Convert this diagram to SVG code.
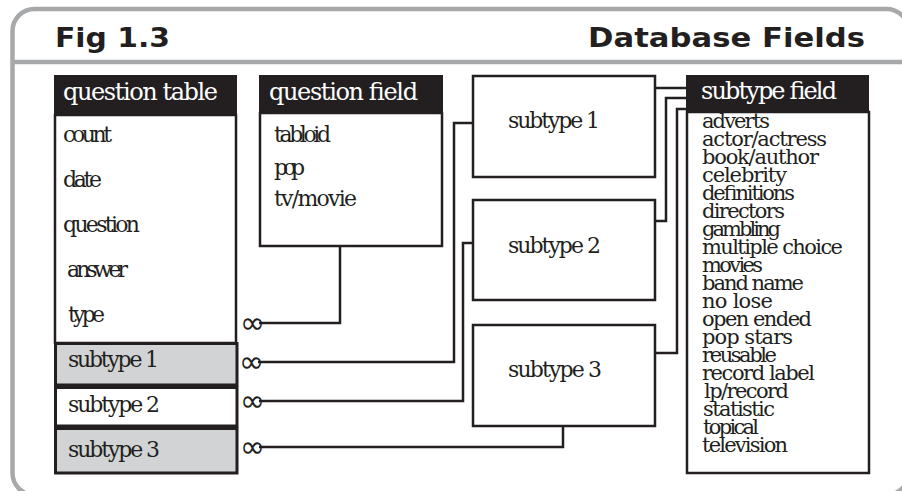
<svg xmlns="http://www.w3.org/2000/svg" width="902" height="491" viewBox="0 0 902 491">
<style>
.frame{fill:none;stroke:#a7a8aa;stroke-width:4.5}
.hdr{fill:#231f20}
.box{fill:#fff;stroke:#231f20;stroke-width:2.5}
.row{stroke:#231f20;stroke-width:3}
.gray{fill:#d1d3d4}
.white{fill:#fff}
.t{font-family:"DejaVu Serif",serif;font-size:22px;fill:#231f20}
.l{font-family:"DejaVu Serif",serif;font-size:21px;fill:#231f20}
.ht{font-family:"DejaVu Serif",serif;font-size:24px;fill:#fff}
.title{font-family:"DejaVu Sans","Liberation Sans",sans-serif;font-weight:bold;font-size:26px;fill:#231f20}
.inf{font-family:"DejaVu Sans",sans-serif;font-size:30px;fill:#231f20}
.conn path{fill:none;stroke:#231f20;stroke-width:2.5}
</style>
<rect width="902" height="491" fill="#fff"/>
<g id="frame">
<rect class="frame" x="12.5" y="9" width="896" height="486" rx="22"/>
<line class="frame" x1="12" y1="62" x2="902" y2="62"/>
<text class="title" x="55" y="47" textLength="115" lengthAdjust="spacingAndGlyphs">Fig  1.3</text>
<text class="title" x="588" y="47" textLength="277" lengthAdjust="spacingAndGlyphs">Database  Fields</text>
</g>
<g id="question-table">
<rect class="hdr" x="54" y="75" width="183" height="40"/>
<text class="ht" x="63" y="100" textLength="155">question table</text>
<rect class="box" x="55" y="115" width="181" height="228"/>
<text class="t" x="63" y="142" textLength="49">count</text>
<text class="t" x="63" y="187" textLength="39">date</text>
<text class="t" x="63" y="232" textLength="77">question</text>
<text class="t" x="67" y="277" textLength="61">answer</text>
<text class="t" x="68" y="322" textLength="37">type</text>
</g>
<g id="qt-subtype1">
<rect class="row gray" x="55.5" y="343.5" width="181.5" height="41.5"/>
<text class="t" x="68" y="367" textLength="91">subtype 1</text>
</g>
<g id="qt-subtype2">
<rect class="row white" x="55.5" y="387.5" width="181.5" height="38.5"/>
<text class="t" x="68" y="412" textLength="92">subtype 2</text>
</g>
<g id="qt-subtype3">
<rect class="row gray" x="55.5" y="428.5" width="181.5" height="44.5"/>
<text class="t" x="68" y="457" textLength="92">subtype 3</text>
</g>
<g id="question-field">
<rect class="hdr" x="259" y="75" width="184" height="38"/>
<text class="ht" x="269" y="100" textLength="149">question field</text>
<rect class="box" x="260" y="113" width="182" height="133"/>
<text class="t" x="274" y="142" textLength="57">tabloid</text>
<text class="t" x="274" y="175" textLength="31">pop</text>
<text class="t" x="274" y="206" textLength="83">tv/movie</text>
</g>
<g id="subtype-1">
<rect class="box" x="473" y="76" width="182" height="101"/>
<text class="t" x="508" y="128" textLength="92">subtype 1</text>
</g>
<g id="subtype-2">
<rect class="box" x="473" y="200" width="182" height="100"/>
<text class="t" x="508" y="253" textLength="93">subtype 2</text>
</g>
<g id="subtype-3">
<rect class="box" x="473" y="325" width="182" height="101"/>
<text class="t" x="508" y="377" textLength="94">subtype 3</text>
</g>
<g id="subtype-field">
<rect class="hdr" x="686" y="75" width="183" height="37"/>
<text class="ht" x="701" y="99" textLength="136">subtype field</text>
<rect class="box" x="687" y="112" width="182" height="361"/>
<text class="l" x="702" y="128" textLength="68">adverts</text>
<text class="l" x="702" y="146" textLength="125">actor/actress</text>
<text class="l" x="702" y="164" textLength="117">book/author</text>
<text class="l" x="702" y="182" textLength="85">celebrity</text>
<text class="l" x="702" y="200" textLength="93">definitions</text>
<text class="l" x="702" y="218" textLength="83">directors</text>
<text class="l" x="702" y="236" textLength="79">gambling</text>
<text class="l" x="702" y="254" textLength="141">multiple choice</text>
<text class="l" x="702" y="272" textLength="61">movies</text>
<text class="l" x="702" y="290" textLength="102">band name</text>
<text class="l" x="702" y="308" textLength="71">no lose</text>
<text class="l" x="702" y="326" textLength="110">open ended</text>
<text class="l" x="702" y="344" textLength="91">pop stars</text>
<text class="l" x="702" y="362" textLength="75">reusable</text>
<text class="l" x="702" y="380" textLength="113">record label</text>
<text class="l" x="704" y="398" textLength="85">lp/record</text>
<text class="l" x="703" y="416" textLength="72">statistic</text>
<text class="l" x="703" y="434" textLength="56">topical</text>
<text class="l" x="702" y="452" textLength="86">television</text>
</g>
<g class="conn" id="connectors">
<path d="M259 323 H340 V246"/>
<path d="M258 362 H454 V123 H473"/>
<path d="M259 401 H463 V243 H473"/>
<path d="M259 447 H563 V426"/>
<path d="M655 88 H686"/>
<path d="M655 221 H666 V98 H686"/>
<path d="M655 353 H677 V109 H686"/>
<text class="inf" x="240" y="333">∞</text>
<text class="inf" x="239" y="372">∞</text>
<text class="inf" x="240" y="411">∞</text>
<text class="inf" x="240" y="457">∞</text>
</g>
</svg>
